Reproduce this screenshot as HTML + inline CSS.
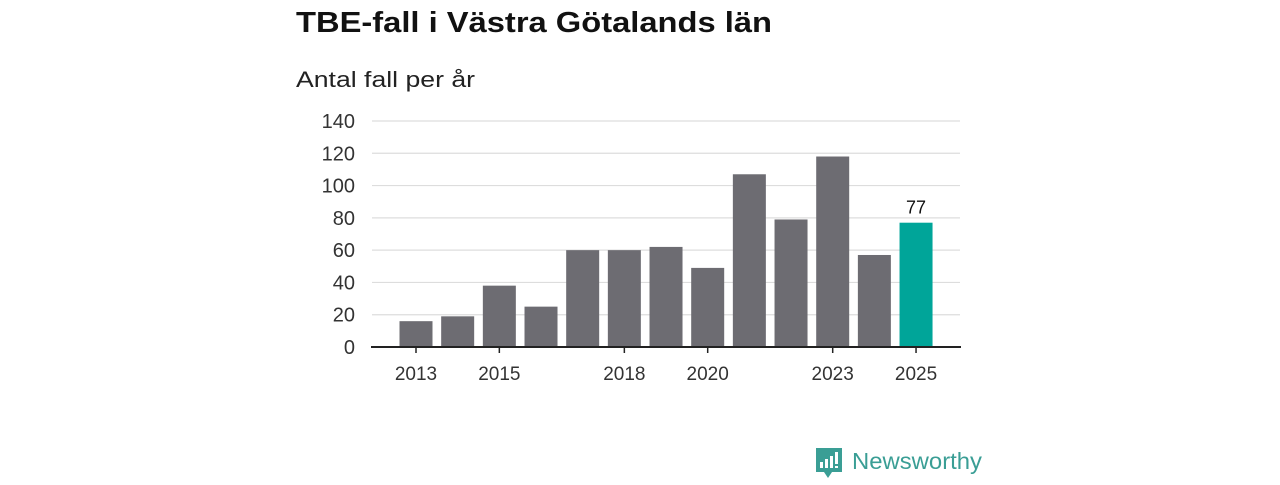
<!DOCTYPE html>
<html><head><meta charset="utf-8"><style>
body{margin:0;width:1280px;height:480px;background:#fff;font-family:"Liberation Sans","DejaVu Sans",sans-serif;overflow:hidden}
</style></head><body>
<svg width="1280" height="480">
<text x="296" y="32" font-size="29" font-weight="bold" fill="#111" textLength="476" lengthAdjust="spacingAndGlyphs">TBE-fall i Västra Götalands län</text>
<text x="296" y="87" font-size="22" fill="#222" textLength="179" lengthAdjust="spacingAndGlyphs">Antal fall per år</text>
<g id="grid"></g>
<g id="bars"></g>
<g id="xaxis"></g>
<g>
<path d="M816 448 h26 v24 h-10 l-4 6 l-4 -6 h-8 z" fill="#3a9e95"/>
<rect x="820" y="462" width="3" height="6" fill="#fff"/><rect x="825" y="459" width="3" height="9" fill="#fff"/><rect x="830" y="456" width="3" height="12" fill="#fff"/><rect x="835" y="452" width="3" height="12" fill="#fff"/><rect x="835" y="466" width="3" height="2" fill="#fff"/>
<text x="852" y="469" font-size="23" fill="#3a9e95" textLength="130" lengthAdjust="spacingAndGlyphs">Newsworthy</text>
</g>
</svg>
<script>
const years=[2013,2014,2015,2016,2017,2018,2019,2020,2021,2022,2023,2024,2025];
const values=[16,19,38,25,60,60,62,49,107,79,118,57,77];
const yTicks=[0,20,40,60,80,100,120,140];
const xTickLabels=[2013,2015,2018,2020,2023,2025];
const NS="http://www.w3.org/2000/svg";
const y0=347,yTop=121,yMax=140;
const ys=v=>y0-(v/yMax)*(y0-yTop);
const x0=416,step=41.67,bw=33;
const xs=i=>x0+i*step;
function mk(t,a,p){const e=document.createElementNS(NS,t);for(const k in a)e.setAttribute(k,a[k]);p.appendChild(e);return e;}
const grid=document.getElementById('grid'),bars=document.getElementById('bars'),xa=document.getElementById('xaxis');
yTicks.forEach(t=>{
 if(t>0){const l=mk('line',{x1:372,x2:960,y1:ys(t),y2:ys(t),stroke:'#dddddd','stroke-width':1.2},grid);
 
 }
 const tx=mk('text',{x:355,y:ys(t)+7,'text-anchor':'end','font-size':20,fill:'#333'},grid);tx.textContent=t;
 
 
});
values.forEach((v,i)=>{
 const last=i===values.length-1;
 const r=mk('rect',{x:xs(i)-bw/2,y:ys(v),width:bw,height:y0-ys(v),fill:last?'#00a599':'#6d6c72'},bars);
 
 
 if(last){const t=mk('text',{x:xs(i),y:ys(v)-9,'text-anchor':'middle','font-size':18,fill:'#111'},bars);t.textContent=v;
 
 }
});
const ax=mk('line',{x1:371,x2:961,y1:y0,y2:y0,stroke:'#222','stroke-width':2},xa);


xTickLabels.forEach(yr=>{
 const i=years.indexOf(yr);
 mk('line',{x1:xs(i),x2:xs(i),y1:y0,y2:y0+6,stroke:'#222','stroke-width':1.5},xa);
 const t=mk('text',{x:xs(i),y:380,'text-anchor':'middle','font-size':19,fill:'#333'},xa);t.textContent=yr;
 
 
});
</script>
</body></html>
